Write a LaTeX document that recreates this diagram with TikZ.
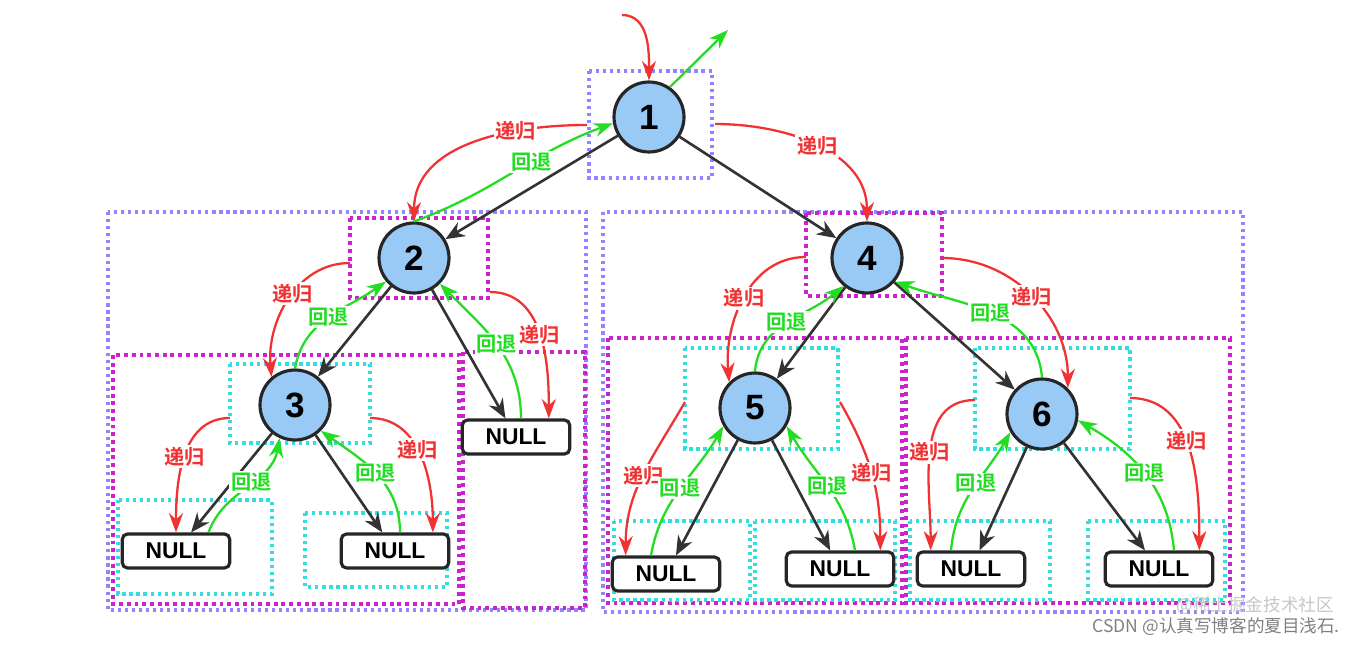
\documentclass[tikz,border=0pt]{standalone}
\usepackage{fontspec}
\setmainfont{Liberation Sans}
\newfontfamily\cjk{Noto Sans CJK SC}[BoldFont={Noto Sans CJK SC Bold}]
\usetikzlibrary{arrows.meta}
\usetikzlibrary{positioning}
\definecolor{recred}{HTML}{F03232}
\definecolor{bakgreen}{HTML}{22DD22}
\definecolor{lavbox}{HTML}{8F86FF}
\definecolor{magbox}{HTML}{CC22CC}
\definecolor{cyanbox}{HTML}{33DDDD}
\definecolor{nodeblue}{HTML}{99C9F5}
\tikzset{
  tree/.style={circle,draw=black!85,line width=1.8pt,fill=nodeblue,
    minimum size=1.4cm,inner sep=0pt,font=\fontsize{20}{20}\bfseries},
  leaf/.style={rectangle,rounded corners=3pt,draw=black!85,line width=1.8pt,
    fill=white,minimum width=2.15cm,minimum height=0.68cm,inner sep=0pt,
    font=\fontsize{13}{13}\bfseries},
  edge/.style={draw=black!80,line width=1.5pt,-{Stealth[length=11pt,width=9pt]}},
  recur/.style={draw=recred,line width=1.3pt,-{Stealth[length=11pt,width=8pt]}},
  back/.style={draw=bakgreen,line width=1.3pt,-{Stealth[length=11pt,width=8pt]}},
  lbl/.style={fill=white,inner sep=1pt,font=\cjk\fontsize{11.5}{11.5}\bfseries},
  lav/.style={draw=lavbox,line width=1.8pt,dash pattern=on 1.8pt off 2.2pt},
  mag/.style={draw=magbox,line width=2.2pt,dash pattern=on 2.2pt off 2.2pt},
  cya/.style={draw=cyanbox,line width=1.8pt,dash pattern=on 1.8pt off 2.2pt}
}
% red forward arrow with label
\newcommand\digui[4]{
  \draw[recur] #1 to[#3] node[lbl,text=recred,pos=#4] {递归} #2;
}
% green return arrow with label
\newcommand\huitui[4]{
  \draw[back] #1 to[#3] node[lbl,text=bakgreen,pos=#4] {回退} #2;
}
\begin{document}
\begin{tikzpicture}[x=0.02cm,y=-0.02cm]
  \useasboundingbox (0,0) rectangle (1360,645);

  % boxes
  \draw[lav] (589,71) rectangle (712,178);
  \draw[lav] (108,212) rectangle (586,610);
  \draw[lav] (603,212) rectangle (1243,612);
  \draw[mag] (350,218) rectangle (488,298);
  \draw[mag] (113,355) rectangle (459,604);
  \draw[mag] (463,352) rectangle (585,608);
  \draw[mag] (806,213) rectangle (942,296);
  \draw[mag] (608,338) rectangle (902,603);
  \draw[mag] (906,338) rectangle (1230,603);
  \foreach \xa/\ya/\xb/\yb in {230/364/370/443, 118/500/272/594, 305/513/447/587,
                     685/348/838/449, 614/521/750/600, 755/521/895/600,
                     975/348/1130/449, 910/521/1050/600, 1088/521/1225/600} {
    \draw[cya] (\xa,\ya) rectangle (\xb,\yb);
  }

  % tree
  \node[tree] (n1) at (649,117) {1};
  \node[tree] (n2) at (414,258) {2};
  \node[tree] (n3) at (295,405) {3};
  \node[tree] (n4) at (867,258) {4};
  \node[tree] (n5) at (755,408) {5};
  \node[tree] (n6) at (1042,414) {6};
  \node[leaf] (n3l) at (176,551) {NULL};
  \node[leaf] (n3r) at (395,551) {NULL};
  \node[leaf] (n2r) at (516,437) {NULL};
  \node[leaf] (n5l) at (666,574) {NULL};
  \node[leaf] (n5r) at (840,569) {NULL};
  \node[leaf] (n6l) at (971,569) {NULL};
  \node[leaf] (n6r) at (1159,569) {NULL};

  \foreach \p/\c in {n1/n2, n1/n4, n2/n3, n2/n2r, n3/n3l, n3/n3r,
                     n4/n5, n4/n6, n5/n5l, n5/n5r, n6/n6l, n6/n6r} {
    \draw[edge] (\p) -- (\c);
  }

  % free ends
  \coordinate (in1) at (622,15);
  \coordinate (out1) at (728,30);
  \coordinate (r1l) at (587,125);
  \coordinate (r1r) at (715,124);
  \coordinate (r2l) at (350,263);
  \coordinate (r2r) at (490,292);
  \coordinate (r3l) at (230,418);
  \coordinate (r3r) at (370,418);
  \coordinate (r4l) at (806,257);
  \coordinate (r4r) at (942,258);
  \coordinate (r5l) at (685,402);
  \coordinate (r5r) at (840,402);
  \coordinate (r6l) at (975,400);
  \coordinate (r6r) at (1130,398);

  \draw[recur] (in1) to[out=0,in=90] (n1.north);
  \draw[back] (n1.55) -- (out1);

  \digui{(r1l)}{(n2.north)}{out=180,in=90}{0.3}
  \huitui{(n2.north)}{(n1.190)}{out=20,in=200}{0.6}
  \digui{(r1r)}{(n4.north)}{out=0,in=90}{0.5}

  \digui{(r2l)}{(n3.130)}{out=180,in=95}{0.45}
  \huitui{(n3.north)}{(n2.220)}{out=80,in=215}{0.5}
  \digui{(r2r)}{([xshift=-0.45cm]n2r.north east)}{out=0,in=90}{0.5}
  \huitui{([xshift=0.1cm]n2r.north)}{(n2.-45)}{out=90,in=-45}{0.5}

  \digui{(r3l)}{(n3l.north)}{out=180,in=90}{0.5}
  \huitui{([xshift=0.65cm]n3l.north)}{(n3.-115)}{out=70,in=-100}{0.55}
  \digui{(r3r)}{([xshift=-0.35cm]n3r.north east)}{out=0,in=90}{0.45}
  \huitui{([xshift=0.1cm]n3r.north)}{(n3.-45)}{out=90,in=-35}{0.5}

  \digui{(r4l)}{(n5.north west)}{out=180,in=95}{0.5}
  \huitui{(n5.north)}{(n4.230)}{out=85,in=220}{0.5}
  \digui{(r4r)}{(n6.north east)}{out=0,in=90}{0.5}
  \huitui{(n6.north)}{(n4.-40)}{out=95,in=-20}{0.5}

  \digui{(r5l)}{([xshift=0.3cm]n5l.north west)}{out=240,in=90}{0.5}
  \huitui{([xshift=-0.3cm]n5l.north)}{(n5.-150)}{out=80,in=-120}{0.5}
  \digui{(r5r)}{([xshift=-0.3cm]n5r.north east)}{out=-60,in=90}{0.5}
  \huitui{([xshift=0.3cm]n5r.north)}{(n5.-30)}{out=100,in=-60}{0.5}

  \digui{(r6l)}{([xshift=0.3cm]n6l.north west)}{out=180,in=90}{0.5}
  \huitui{([xshift=-0.4cm]n6l.north)}{(n6.-150)}{out=85,in=-120}{0.55}
  \digui{(r6r)}{([xshift=-0.3cm]n6r.north east)}{out=0,in=90}{0.45}
  \huitui{([xshift=0.3cm]n6r.north)}{(n6.-10)}{out=95,in=-30}{0.5}

  % watermark
  \node[anchor=east,text=gray!45,font=\cjk\fontsize{10}{10}] (wm1) at (1340,606) {@稀土掘金技术社区};
  \node[anchor=east,text=gray,font=\cjk\fontsize{10}{10}] (wm2) at (1346,627) {CSDN @认真写博客的夏目浅石.};
\end{tikzpicture}
\end{document}
